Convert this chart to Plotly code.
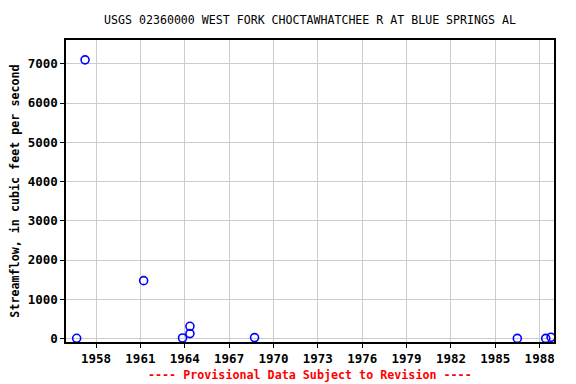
import plotly.graph_objects as go

years = [1956.69, 1957.26, 1961.22, 1963.85, 1964.35, 1964.35, 1968.72, 1986.49, 1988.41, 1988.77]
flows = [8, 7100, 1476, 15, 313, 127, 25, 5, 5, 35]
x_ticks = [1958, 1961, 1964, 1967, 1970, 1973, 1976, 1979, 1982, 1985, 1988]
y_ticks = [0, 1000, 2000, 3000, 4000, 5000, 6000, 7000]

font_family = "DejaVu Sans Mono"

fig = go.Figure()
fig.add_trace(go.Scatter(
    x=years, y=flows, mode="markers",
    marker=dict(symbol="circle-open", size=8, color="#0000ff", line=dict(width=1.6, color="#0000ff")),
    showlegend=False,
))

# page body has an 8px margin, so the figure is drawn 8px smaller
fig.update_layout(
    width=568, height=376,
    margin=dict(l=58, r=22, t=32, b=42, autoexpand=False),
    paper_bgcolor="white", plot_bgcolor="white",
    title=dict(text="USGS 02360000 WEST FORK CHOCTAWHATCHEE R AT BLUE SPRINGS AL",
               xref="paper", x=0.5, xanchor="center", y=0.968, yanchor="middle",
               font=dict(family=font_family, size=11.6, color="black")),
    font=dict(family=font_family, size=11, color="black"),
)
fig.update_xaxes(
    range=[1955.97, 1988.97], tickvals=x_ticks, ticktext=[str(v) for v in x_ticks],
    showgrid=True, gridcolor="#cccccc", gridwidth=1, automargin=False,
    showline=True, linecolor="black", linewidth=1.5, mirror=True,
    ticks="outside", ticklen=4, tickcolor="black", zeroline=False,
    tickfont=dict(family=font_family, size=12.5, color="black", weight="bold"),
)
fig.update_yaxes(
    range=[-87, 7605], tickvals=y_ticks, ticktext=[str(v) for v in y_ticks],
    showgrid=True, gridcolor="#cccccc", gridwidth=1, automargin=False,
    showline=True, linecolor="black", linewidth=1.5, mirror=True,
    ticks="outside", ticklen=4, tickcolor="black", zeroline=False,
    tickfont=dict(family=font_family, size=12.5, color="black", weight="bold"),
    title=dict(text="Streamflow, in cubic feet per second", standoff=6,
               font=dict(family=font_family, size=11.7, color="black", weight="bold")),
)
fig.add_annotation(
    text="---- Provisional Data Subject to Revision ----",
    xref="paper", yref="paper", x=0.5, y=-0.109, xanchor="center", yanchor="middle",
    showarrow=False, font=dict(family=font_family, size=11.7, color="red", weight="bold"),
)

fig.write_html("out.html")
